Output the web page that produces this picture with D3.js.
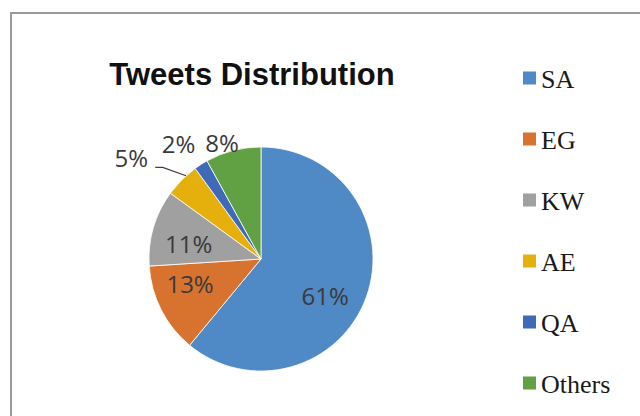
<!DOCTYPE html>
<html>
<head>
<meta charset="utf-8">
<script src="https://cdn.jsdelivr.net/npm/d3@7"></script>
<style>
  body { margin: 0; background: #fff; }
  svg { display: block; }
</style>
</head>
<body>
<div id="chart"></div>
<script>
// data
const countries = ["SA", "EG", "KW", "AE", "QA", "Others"];
const shares = [61, 13, 11, 5, 2, 8];
const sliceColors = ["#4f89c6", "#d8722f", "#a0a0a0", "#e5b00c", "#3f6ab8", "#62a044"];

const width = 640, height = 416;
const cx = 261, cy = 259, radius = 112;

const svg = d3.select("#chart")
    .append("svg")
    .attr("width", width)
    .attr("height", height);

// chart frame (runs off the right and bottom edge)
svg.append("rect")
    .attr("x", 11).attr("y", 13)
    .attr("width", 660).attr("height", 420)
    .attr("fill", "#fff")
    .attr("stroke", "#9a9a9a")
    .attr("stroke-width", 2);

// title
svg.append("text")
    .attr("x", 252)
    .attr("y", 85)
    .attr("text-anchor", "middle")
    .style("font-family", "'Liberation Sans', Arial, sans-serif")
    .style("font-weight", "bold")
    .style("font-size", "31px")
    .attr("fill", "#111")
    .text("Tweets Distribution");

const data = countries.map((c, i) => ({name: c, value: shares[i]}));

const color = d3.scaleOrdinal()
    .domain(countries)
    .range(sliceColors);

const pie = d3.pie()
    .sort(null)
    .value(d => d.value);

const arc = d3.arc().innerRadius(0).outerRadius(radius);

const arcs = pie(data);

const g = svg.append("g")
    .attr("transform", "translate(" + cx + "," + cy + ")");

g.selectAll("path")
    .data(arcs)
    .enter().append("path")
    .attr("d", arc)
    .attr("fill", d => color(d.data.name))
    .attr("stroke", "#fff")
    .attr("stroke-width", 0.8);

// label placement: inside for big slices, outside for small ones
const labelStyle = {
    SA:     {r: 0.66, shift: 10},
    EG:     {r: 0.67, shift: 8},
    KW:     {r: 0.66, shift: -4},
    AE:     {r: 1.47, shift: -7, leader: true},
    QA:     {r: 1.27, shift: -3},
    Others: {r: 1.10, shift: -4}
};

function polar(angle, r) {
    return [Math.sin(angle) * r, -Math.cos(angle) * r];
}

function labelPos(d) {
    const s = labelStyle[d.data.name];
    const a = (d.startAngle + d.endAngle) / 2 + s.shift * Math.PI / 180;
    return polar(a, radius * s.r);
}

g.selectAll("text.pct")
    .data(arcs)
    .enter().append("text")
    .attr("class", "pct")
    .attr("x", d => labelPos(d)[0])
    .attr("y", d => labelPos(d)[1])
    .attr("text-anchor", "middle")
    .attr("dominant-baseline", "central")
    .style("font-family", "'Open Sans', 'Noto Sans', sans-serif")
    .style("font-size", "24px")
    .attr("fill", "#3a3a3a")
    .text(d => d.data.value + "%");

// leader line for the small AE label
const leader = arcs.filter(d => labelStyle[d.data.name].leader);
g.selectAll("polyline")
    .data(leader)
    .enter().append("polyline")
    .attr("fill", "none")
    .attr("stroke", "#404040")
    .attr("stroke-width", 1.2)
    .attr("points", d => {
        const mid = (d.startAngle + d.endAngle) / 2;
        const p0 = polar(mid + 3 * Math.PI / 180, radius * 1.0);
        const p1 = polar(mid - 2 * Math.PI / 180, radius * 1.2);
        const lp = labelPos(d);
        const p2 = [lp[0] + 24, p1[1]];
        return [p0, p1, p2].map(p => p.join(",")).join(" ");
    });

// legend
const yLegend = d3.scalePoint()
    .domain(countries)
    .range([78, 383]);

const legend = svg.append("g");

legend.selectAll("rect")
    .data(countries)
    .enter().append("rect")
    .attr("x", 523)
    .attr("y", d => yLegend(d) - 6.5)
    .attr("width", 13)
    .attr("height", 13)
    .attr("fill", d => color(d));

legend.selectAll("text")
    .data(countries)
    .enter().append("text")
    .attr("x", 541)
    .attr("y", d => yLegend(d) + 1)
    .attr("dominant-baseline", "central")
    .style("font-family", "'Liberation Serif', 'Times New Roman', serif")
    .style("font-size", "26px")
    .attr("fill", "#1a1a1a")
    .text(d => d);
</script>
</body>
</html>
